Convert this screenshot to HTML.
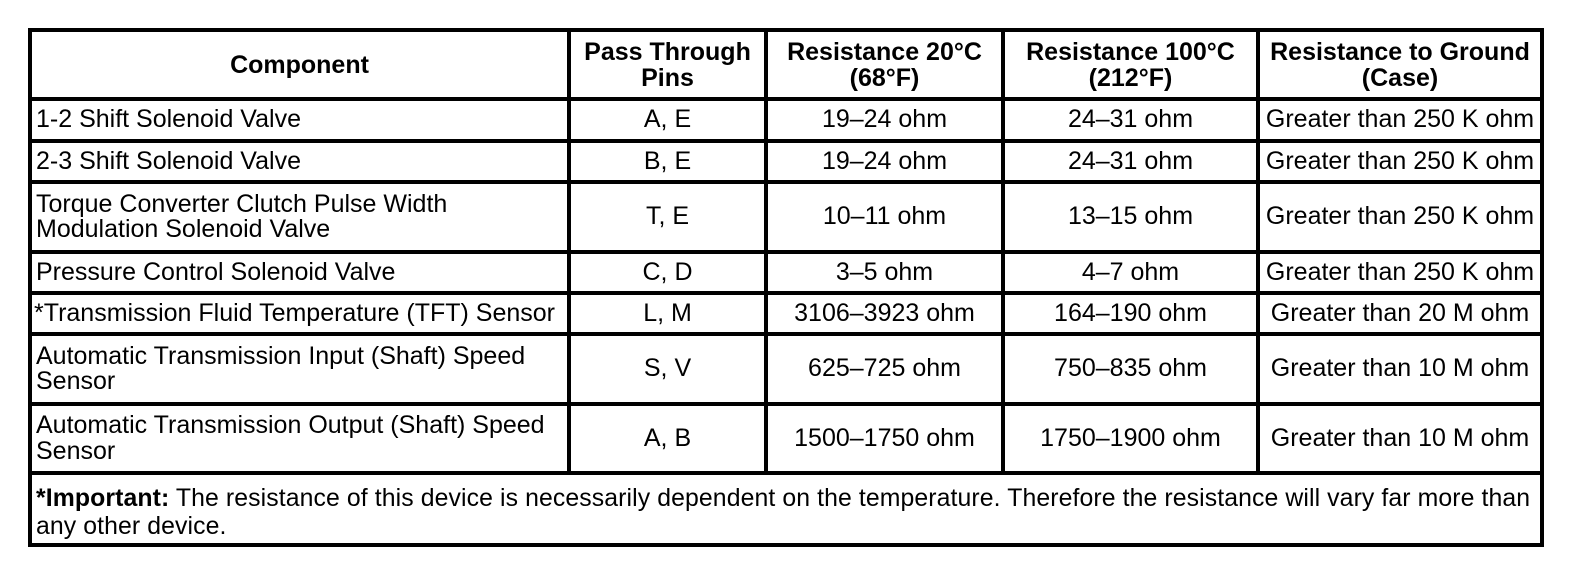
<!DOCTYPE html>
<html>
<head>
<meta charset="utf-8">
<style>
  html, body { margin:0; padding:0; background:#fff; }
  body { width:1584px; height:568px; position:relative; overflow:hidden;
         font-family:"Liberation Sans", Arial, sans-serif; color:#000; }
  .h { position:absolute; left:28px; width:1516px; height:4px; background:#000; }
  .v { position:absolute; width:4px; background:#000; }
  .c { position:absolute; display:flex; align-items:center; justify-content:center;
       text-align:center; font-size:25px; line-height:25.5px; white-space:nowrap; }
  .l { justify-content:flex-start; text-align:left; padding-left:4px; box-sizing:border-box; }
  .b { font-weight:bold; line-height:26px; }
  .foot { position:absolute; left:32px; top:485px; width:1508px; font-size:24.8px;
          line-height:28px; white-space:nowrap; padding-left:4px; box-sizing:border-box;
          letter-spacing:0.1px; }
</style>
</head>
<body>
<!-- horizontal lines -->
<div class="h" style="top:28px"></div>
<div class="h" style="top:97px"></div>
<div class="h" style="top:139px"></div>
<div class="h" style="top:180px"></div>
<div class="h" style="top:250px"></div>
<div class="h" style="top:291px"></div>
<div class="h" style="top:332px"></div>
<div class="h" style="top:402px"></div>
<div class="h" style="top:471px"></div>
<div class="h" style="top:543px"></div>
<!-- vertical lines -->
<div class="v" style="left:28px; top:28px; height:519px"></div>
<div class="v" style="left:1540px; top:28px; height:519px"></div>
<div class="v" style="left:567px; top:28px; height:447px"></div>
<div class="v" style="left:764px; top:28px; height:447px"></div>
<div class="v" style="left:1001px; top:28px; height:447px"></div>
<div class="v" style="left:1256px; top:28px; height:447px"></div>

<!-- header -->
<div class="c b" style="left:32px; top:32px; width:535px; height:65px">Component</div>
<div class="c b" style="left:571px; top:32px; width:193px; height:65px">Pass Through<br>Pins</div>
<div class="c b" style="left:768px; top:32px; width:233px; height:65px">Resistance 20°C<br>(68°F)</div>
<div class="c b" style="left:1005px; top:32px; width:251px; height:65px">Resistance 100°C<br>(212°F)</div>
<div class="c b" style="left:1260px; top:32px; width:280px; height:65px">Resistance to Ground<br>(Case)</div>

<!-- row 1 -->
<div class="c l" style="left:32px; top:101px; width:535px; height:38px">1-2 Shift Solenoid Valve</div>
<div class="c" style="left:571px; top:101px; width:193px; height:38px">A, E</div>
<div class="c" style="left:768px; top:101px; width:233px; height:38px">19–24 ohm</div>
<div class="c" style="left:1005px; top:101px; width:251px; height:38px">24–31 ohm</div>
<div class="c" style="left:1260px; top:101px; width:280px; height:38px">Greater than 250 K ohm</div>

<!-- row 2 -->
<div class="c l" style="left:32px; top:143px; width:535px; height:37px">2-3 Shift Solenoid Valve</div>
<div class="c" style="left:571px; top:143px; width:193px; height:37px">B, E</div>
<div class="c" style="left:768px; top:143px; width:233px; height:37px">19–24 ohm</div>
<div class="c" style="left:1005px; top:143px; width:251px; height:37px">24–31 ohm</div>
<div class="c" style="left:1260px; top:143px; width:280px; height:37px">Greater than 250 K ohm</div>

<!-- row 3 -->
<div class="c l" style="left:32px; top:184px; width:535px; height:66px">Torque Converter Clutch Pulse Width<br>Modulation Solenoid Valve</div>
<div class="c" style="left:571px; top:184px; width:193px; height:66px">T, E</div>
<div class="c" style="left:768px; top:184px; width:233px; height:66px">10–11 ohm</div>
<div class="c" style="left:1005px; top:184px; width:251px; height:66px">13–15 ohm</div>
<div class="c" style="left:1260px; top:184px; width:280px; height:66px">Greater than 250 K ohm</div>

<!-- row 4 -->
<div class="c l" style="left:32px; top:254px; width:535px; height:37px">Pressure Control Solenoid Valve</div>
<div class="c" style="left:571px; top:254px; width:193px; height:37px">C, D</div>
<div class="c" style="left:768px; top:254px; width:233px; height:37px">3–5 ohm</div>
<div class="c" style="left:1005px; top:254px; width:251px; height:37px">4–7 ohm</div>
<div class="c" style="left:1260px; top:254px; width:280px; height:37px">Greater than 250 K ohm</div>

<!-- row 5 -->
<div class="c l" style="left:32px; top:295px; width:535px; height:37px; padding-left:2px">*Transmission Fluid Temperature (TFT) Sensor</div>
<div class="c" style="left:571px; top:295px; width:193px; height:37px">L, M</div>
<div class="c" style="left:768px; top:295px; width:233px; height:37px">3106–3923 ohm</div>
<div class="c" style="left:1005px; top:295px; width:251px; height:37px">164–190 ohm</div>
<div class="c" style="left:1260px; top:295px; width:280px; height:37px">Greater than 20 M ohm</div>

<!-- row 6 -->
<div class="c l" style="left:32px; top:336px; width:535px; height:66px">Automatic Transmission Input (Shaft) Speed<br>Sensor</div>
<div class="c" style="left:571px; top:336px; width:193px; height:66px">S, V</div>
<div class="c" style="left:768px; top:336px; width:233px; height:66px">625–725 ohm</div>
<div class="c" style="left:1005px; top:336px; width:251px; height:66px">750–835 ohm</div>
<div class="c" style="left:1260px; top:336px; width:280px; height:66px">Greater than 10 M ohm</div>

<!-- row 7 -->
<div class="c l" style="left:32px; top:406px; width:535px; height:65px">Automatic Transmission Output (Shaft) Speed<br>Sensor</div>
<div class="c" style="left:571px; top:406px; width:193px; height:65px">A, B</div>
<div class="c" style="left:768px; top:406px; width:233px; height:65px">1500–1750 ohm</div>
<div class="c" style="left:1005px; top:406px; width:251px; height:65px">1750–1900 ohm</div>
<div class="c" style="left:1260px; top:406px; width:280px; height:65px">Greater than 10 M ohm</div>

<!-- footer -->
<div class="foot"><b>*Important:</b> The resistance of this device is necessarily dependent on the temperature. Therefore the resistance will vary far more than<br>any other device.</div>
</body>
</html>
